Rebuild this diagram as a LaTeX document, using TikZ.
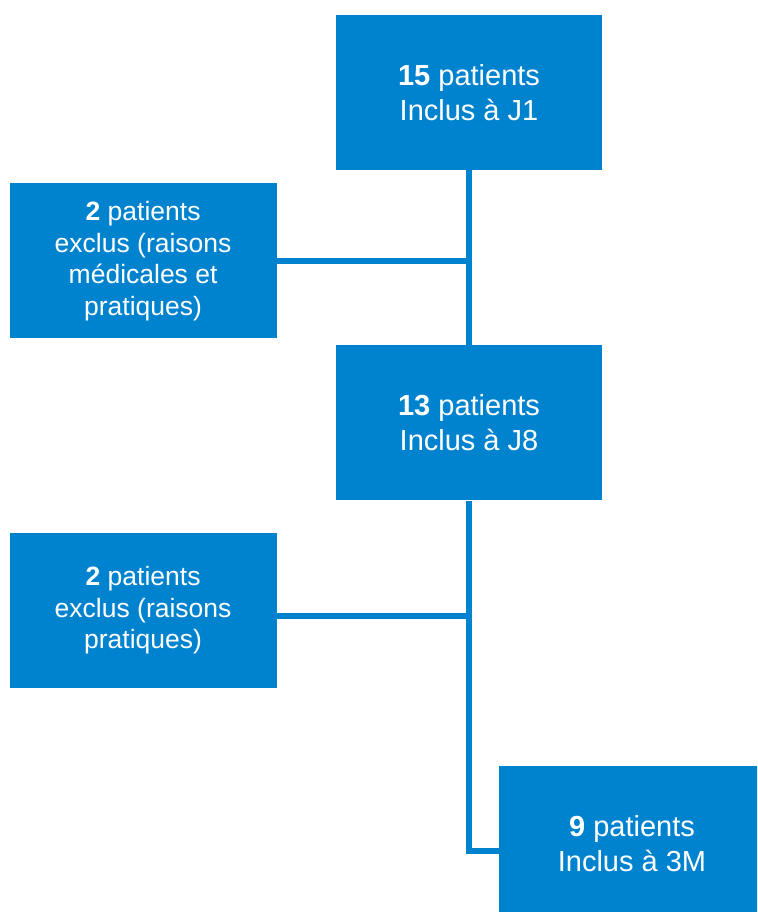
\documentclass[tikz,border=0pt]{standalone}
\usepackage{fontspec}
\setmainfont{Liberation Sans}
\usetikzlibrary{positioning}
\definecolor{flowblue}{RGB}{0,131,207}

\begin{document}
\begin{tikzpicture}[x=1pt,y=1pt,node distance=175pt,
                    link/.style={draw=flowblue,line width=6pt}]
  \tikzstyle{incl}=[fill=flowblue,text=white,minimum width=266pt,minimum height=155pt,
                    inner sep=0pt,align=center,font=\fontsize{29}{35}\selectfont]
  \tikzstyle{excl}=[incl,minimum width=267pt,font=\fontsize{26.5}{31.5}\selectfont]

  \useasboundingbox (0,0) rectangle (757,-912);
  \clip (0,0) rectangle (757,-912);

  \node[incl]  (J1)                                    at (469,-92.5) {\textbf{15} patients\\Inclus à J1};
  \node[excl]  (E1) [below left=13pt and 59pt of J1]   {\textbf{2} patients\\exclus (raisons\\médicales et\\pratiques)};
  \node[incl]  (J8) [below=of J1]                      {\textbf{13} patients\\Inclus à J8};
  \node[excl]  (E2) [below left=32pt and 59pt of J8]   {\textbf{2} patients\\exclus (raisons\\pratiques)};
  \node[incl]  (M3) [below=265pt of J8, xshift=163pt]  {\textbf{9} patients\\Inclus à 3M};

  \draw[link] (J1) -- (J8);
  \draw[link] (E1) -- (E1 -| J1);
  \draw[link] ([yshift=-5.5pt]E2.east) -- ([yshift=-5.5pt]E2.east -| J8);
  \draw[link] (J8) |- ([yshift=-7.5pt]M3.west);
\end{tikzpicture}
\end{document}
